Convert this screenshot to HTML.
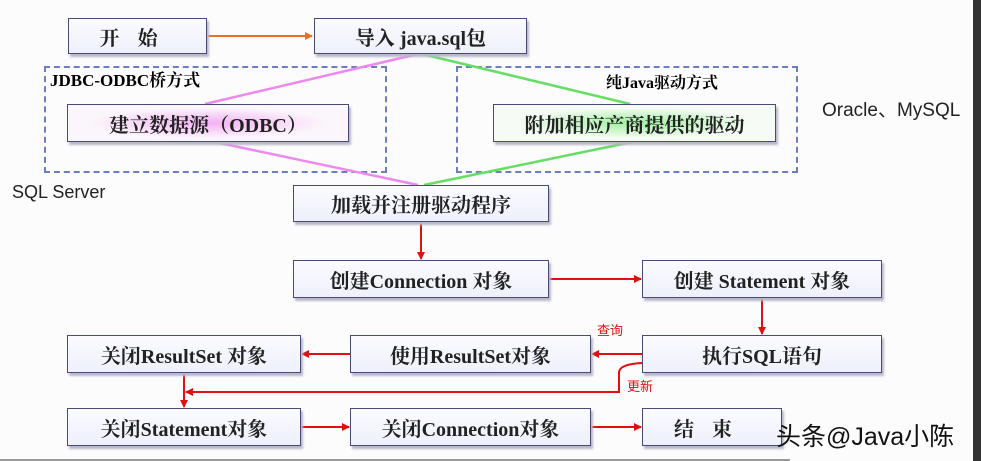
<!DOCTYPE html>
<html><head><meta charset="utf-8"><style>
body{margin:0;width:981px;height:461px;background:#fcfcfd;position:relative;overflow:hidden;font-family:"Liberation Serif","Noto Serif CJK SC",serif}
.b{position:absolute;box-sizing:border-box;border:1.5px solid #4a4a7a;background:linear-gradient(#fbfbff,#eef0fb);box-shadow:2px 3px 2px #b8b8c8;display:flex;align-items:center;justify-content:center;font-weight:bold;font-size:20px;color:#222;white-space:nowrap}
.l{position:absolute;font-family:"Liberation Sans","Noto Sans CJK SC",sans-serif;white-space:nowrap}
.d{position:absolute;border:2.5px dashed #6a7fc0;box-sizing:border-box}
</style></head><body>
<div class="d" style="left:44px;top:66px;width:343px;height:107px"></div>
<div class="d" style="left:456px;top:66px;width:342px;height:107px"></div>
<svg width="981" height="461" style="position:absolute;left:0;top:0">
<defs><marker id="a" markerWidth="8" markerHeight="8" refX="7" refY="4" orient="auto" markerUnits="userSpaceOnUse"><path d="M0,0L8,4L0,8z" fill="#e01010"/></marker>
<marker id="o" markerWidth="8" markerHeight="8" refX="7" refY="4" orient="auto" markerUnits="userSpaceOnUse"><path d="M0,0L8,4L0,8z" fill="#e87020"/></marker></defs>
<line x1="207" y1="36" x2="312" y2="36" stroke="#e87020" stroke-width="2" marker-end="url(#o)"/>
<g stroke="#ee88ee" stroke-width="2.5"><line x1="418" y1="54" x2="205" y2="104"/><line x1="215" y1="142" x2="418" y2="185"/></g>
<g stroke="#66dd66" stroke-width="2.5"><line x1="422" y1="54" x2="630" y2="104"/><line x1="632" y1="142" x2="424" y2="185"/></g>
<g stroke="#e01010" stroke-width="2" fill="none">
<line x1="421" y1="222" x2="421" y2="259" marker-end="url(#a)"/>
<line x1="549" y1="279" x2="641" y2="279" marker-end="url(#a)"/>
<line x1="762" y1="298" x2="762" y2="334" marker-end="url(#a)"/>
<line x1="642" y1="354" x2="592" y2="354" marker-end="url(#a)"/>
<line x1="350" y1="354" x2="302" y2="354" marker-end="url(#a)"/>
<line x1="184" y1="373" x2="184" y2="407" marker-end="url(#a)"/>
<path d="M642,363 Q620,364 619,372 L619,392 L186,392" marker-end="url(#a)"/>
<line x1="301" y1="427" x2="349" y2="427" marker-end="url(#a)"/>
<line x1="591" y1="427" x2="641" y2="427" marker-end="url(#a)"/>
</g>
<line x1="0" y1="460" x2="790" y2="460" stroke="#999" stroke-width="2"/>
<rect x="973" y="0" width="8" height="461" fill="#333"/>
</svg>
<div class="b" style="left:68px;top:18px;width:139px;height:36px;letter-spacing:18px">开始</div>
<div class="b" style="left:314px;top:18px;width:213px;height:36px">导入 java.sql包</div>
<div class="l" style="left:50px;top:66px;font-family:'Liberation Serif','Noto Serif CJK SC',serif;font-weight:bold;font-size:17px">JDBC-ODBC桥方式</div>
<div class="l" style="left:606px;top:70px;font-family:'Liberation Serif','Noto Serif CJK SC',serif;font-weight:bold;font-size:16px">纯Java驱动方式</div>
<div class="b" style="left:67px;top:104px;width:282px;height:38px;background:radial-gradient(ellipse at 50% 50%,#f4b0f4,#fbf6fb 60%)">建立数据源（ODBC）</div>
<div class="b" style="left:493px;top:104px;width:283px;height:38px;background:radial-gradient(ellipse at 50% 50%,#9ef09e,#f6fbf6 60%)">附加相应产商提供的驱动</div>
<div class="l" style="left:822px;top:95px;font-size:19px;color:#222">Oracle、MySQL</div>
<div class="l" style="left:12px;top:182px;font-size:18px;color:#222">SQL Server</div>
<div class="b" style="left:293px;top:185px;width:256px;height:37px">加载并注册驱动程序</div>
<div class="b" style="left:293px;top:260px;width:256px;height:38px">创建Connection 对象</div>
<div class="b" style="left:642px;top:260px;width:240px;height:38px">创建 Statement 对象</div>
<div class="b" style="left:642px;top:335px;width:240px;height:38px">执行SQL语句</div>
<div class="b" style="left:350px;top:335px;width:241px;height:38px">使用ResultSet对象</div>
<div class="b" style="left:67px;top:335px;width:234px;height:38px">关闭ResultSet 对象</div>
<div class="b" style="left:67px;top:408px;width:234px;height:38px">关闭Statement对象</div>
<div class="b" style="left:350px;top:408px;width:241px;height:38px">关闭Connection对象</div>
<div class="b" style="left:642px;top:408px;width:140px;height:38px;letter-spacing:18px">结束</div>
<div class="l" style="left:597px;top:320px;font-size:13px;color:#e01010">查询</div>
<div class="l" style="left:627px;top:376px;font-size:13px;color:#e01010">更新</div>
<div class="l" style="left:776px;top:417px;font-size:25px;color:#111">头条@Java小陈</div>
</body></html>
